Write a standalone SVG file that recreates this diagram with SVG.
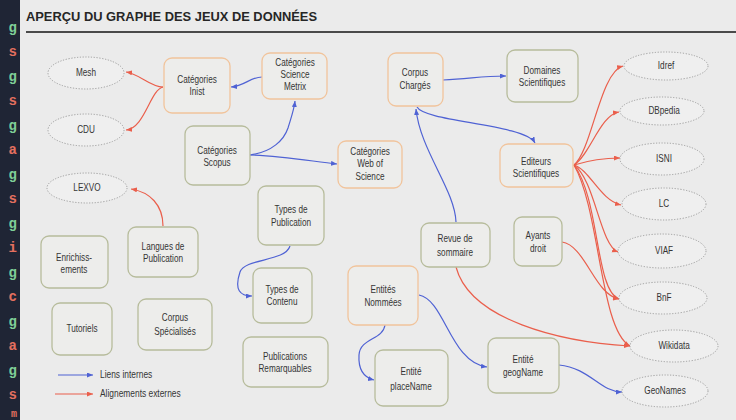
<svg xmlns="http://www.w3.org/2000/svg" width="736" height="420" viewBox="0 0 736 420">
<style>
.bg{fill:#ebebeb}
.strip{fill:#1f2535}
.sl{font-family:"Liberation Mono","DejaVu Sans Mono",monospace;font-size:14px;font-weight:bold;text-anchor:end}
.sg{fill:#7fcf98}
.sr{fill:#e4705f}
.title{font-family:"Liberation Sans",Arial,sans-serif;font-size:12px;font-weight:bold;fill:#262626}
.ng rect{fill:#ededeb;stroke:#b7bc9c;stroke-width:1.3}
.no rect{fill:#ededeb;stroke:#f1c49c;stroke-width:1.3}
.ne ellipse{fill:#efefef;stroke:#9d9d9d;stroke-width:1;stroke-dasharray:1.2 1.6}
text.t{font-family:"Liberation Sans",Arial,sans-serif;font-size:10.5px;fill:#353535;text-anchor:middle;transform-box:fill-box;transform-origin:center;transform:scaleX(0.78)}
.b{fill:none;stroke:#4f62d4;stroke-width:1.2}
.r{fill:none;stroke:#ea5f4c;stroke-width:1.2}
.leg{font-family:"Liberation Sans",Arial,sans-serif;font-size:10.5px;fill:#353535;transform-box:fill-box;transform-origin:left center;transform:scaleX(0.8)}
</style>
<defs>
<marker id="ab" markerUnits="userSpaceOnUse" markerWidth="7" markerHeight="6" refX="6" refY="2.5" orient="auto"><path d="M0,0 L6,2.5 L0,5 z" fill="#4f62d4"/></marker>
<marker id="ar" markerUnits="userSpaceOnUse" markerWidth="7" markerHeight="6" refX="6" refY="2.5" orient="auto"><path d="M0,0 L6,2.5 L0,5 z" fill="#ea5f4c"/></marker>
</defs>
<rect class="strip" x="0" y="0" width="20" height="420"/>
<rect class="bg" x="20" y="0" width="716" height="420"/>
<g id="strip-letters" class="sl">
<text x="17" y="32" class="sg">g</text>
<text x="17" y="56" class="sr">s</text>
<text x="17" y="81" class="sg">g</text>
<text x="17" y="105" class="sr">s</text>
<text x="17" y="130" class="sg">g</text>
<text x="17" y="154" class="sr">a</text>
<text x="17" y="179" class="sg">g</text>
<text x="17" y="203" class="sr">s</text>
<text x="17" y="228" class="sg">g</text>
<text x="17" y="252" class="sr">i</text>
<text x="17" y="277" class="sg">g</text>
<text x="17" y="301" class="sr">c</text>
<text x="17" y="326" class="sg">g</text>
<text x="17" y="350" class="sr">a</text>
<text x="17" y="375" class="sg">g</text>
<text x="17" y="399" class="sr">s</text>
<text x="17" y="417" class="sr" font-size="10">m</text>
</g>
<text class="title" x="26" y="21" textLength="291" lengthAdjust="spacingAndGlyphs">APERÇU DU GRAPHE DES JEUX DE DONNÉES</text>
<line x1="26" y1="32" x2="736" y2="32" stroke="#4a4a4a" stroke-width="2"/>

<g id="connectors">
<path class="b" marker-end="url(#ab)" d="M262,77 C250,77 245,86 231,87"/>
<path class="b" marker-end="url(#ab)" d="M250,155 C272,152 284,140 288,128 C291,118 294,110 295,101"/>
<path class="b" marker-end="url(#ab)" d="M250,155 C282,156 310,161 337,164"/>
<path class="b" marker-end="url(#ab)" d="M443,80 C470,79 480,76 506,76"/>
<path class="b" marker-end="url(#ab)" d="M417,107 C425,122 525,124 535,143"/>
<path class="b" marker-end="url(#ab)" d="M456,222 C455,190 420,150 416,109"/>
<path class="b" marker-end="url(#ab)" d="M290,246 C285,262 245,258 240,272 C234,290 240,296 252,296"/>
<path class="b" marker-end="url(#ab)" d="M385,325 C383,340 360,338 359,355 C358,372 366,378 374,380"/>
<path class="b" marker-end="url(#ab)" d="M419,295 C445,300 450,362 487,367"/>
<path class="b" marker-end="url(#ab)" d="M559,365 C590,368 600,392 622,392"/>
<path class="r" marker-end="url(#ar)" d="M163,87 C150,87 140,74 126,72"/>
<path class="r" marker-end="url(#ar)" d="M163,87 C150,90 145,128 126,130"/>
<path class="r" marker-end="url(#ar)" d="M163,226 C163,205 150,192 131,189"/>
<path class="r" marker-end="url(#ar)" d="M574,165 C592,150 600,72 623,66"/>
<path class="r" marker-end="url(#ar)" d="M574,165 C590,155 600,115 619,112"/>
<path class="r" marker-end="url(#ar)" d="M574,165 C590,160 605,158 620,158"/>
<path class="r" marker-end="url(#ar)" d="M574,165 C590,170 600,200 621,205"/>
<path class="r" marker-end="url(#ar)" d="M574,165 C595,180 600,245 618,252"/>
<path class="r" marker-end="url(#ar)" d="M574,165 C600,200 595,290 619,299"/>
<path class="r" marker-end="url(#ar)" d="M574,165 C600,210 600,330 630,346"/>
<path class="r" marker-end="url(#ar)" d="M562,242 C585,245 595,295 619,299"/>
<path class="r" marker-end="url(#ar)" d="M456,267 C470,320 560,342 630,346"/>
</g>

<g id="mesh" class="ne"><ellipse cx="86" cy="73" rx="38" ry="16"/><text class="t" x="86" y="76.5">Mesh</text></g>
<g id="cdu" class="ne"><ellipse cx="86" cy="130" rx="38" ry="16"/><text class="t" x="86" y="133.5">CDU</text></g>
<g id="lexvo" class="ne"><ellipse cx="87" cy="188" rx="40" ry="15"/><text class="t" x="87" y="191.5">LEXVO</text></g>
<g id="idref" class="ne"><ellipse cx="666" cy="66" rx="42" ry="14"/><text class="t" x="666" y="69.5">Idref</text></g>
<g id="dbpedia" class="ne"><ellipse cx="662" cy="111" rx="42" ry="14"/><text class="t" x="664" y="114.5">DBpedia</text></g>
<g id="isni" class="ne"><ellipse cx="662" cy="159" rx="42" ry="16"/><text class="t" x="664" y="162.5">ISNI</text></g>
<g id="lc" class="ne"><ellipse cx="664" cy="204" rx="42" ry="16"/><text class="t" x="664" y="207.5">LC</text></g>
<g id="viaf" class="ne"><ellipse cx="662" cy="251" rx="44" ry="17"/><text class="t" x="664" y="254.5">VIAF</text></g>
<g id="bnf" class="ne"><ellipse cx="663" cy="298" rx="44" ry="16"/><text class="t" x="664" y="301.5">BnF</text></g>
<g id="wikidata" class="ne"><ellipse cx="674" cy="346" rx="44" ry="16"/><text class="t" x="674" y="349.5">Wikidata</text></g>
<g id="geonames" class="ne"><ellipse cx="665" cy="391" rx="43" ry="16"/><text class="t" x="665" y="394.5">GeoNames</text></g>

<g id="cat-inist" class="no"><rect x="164" y="58" width="66" height="55" rx="8"/><text class="t" x="197" y="83.5">Catégories</text><text class="t" x="197" y="95.5">Inist</text></g>
<g id="cat-metrix" class="no"><rect x="262" y="53" width="65" height="46" rx="8"/><text class="t" x="295" y="66.5">Catégories</text><text class="t" x="295" y="78.5">Science</text><text class="t" x="295" y="90.5">Metrix</text></g>
<g id="cat-scopus" class="ng"><rect x="185" y="126" width="65" height="59" rx="8"/><text class="t" x="217" y="154.5">Catégories</text><text class="t" x="217" y="166.5">Scopus</text></g>
<g id="cat-wos" class="no"><rect x="338" y="141" width="64" height="47" rx="8"/><text class="t" x="370" y="155">Catégories</text><text class="t" x="370" y="167.5">Web of</text><text class="t" x="370" y="180">Science</text></g>
<g id="types-pub" class="ng"><rect x="258" y="186" width="66" height="59" rx="8"/><text class="t" x="291" y="213.5">Types de</text><text class="t" x="291" y="226">Publication</text></g>
<g id="types-contenu" class="ng"><rect x="253" y="268" width="59" height="55" rx="8"/><text class="t" x="282" y="293.5">Types de</text><text class="t" x="282" y="305.5">Contenu</text></g>
<g id="langues" class="ng"><rect x="128" y="227" width="70" height="50" rx="8"/><text class="t" x="163" y="250.5">Langues de</text><text class="t" x="163" y="262">Publication</text></g>
<g id="enrich" class="ng"><rect x="41" y="236" width="67" height="52" rx="8"/><text class="t" x="74" y="261.5">Enrichiss-</text><text class="t" x="74" y="273.5">ements</text></g>
<g id="tutoriels" class="ng"><rect x="52" y="303" width="60" height="52" rx="8"/><text class="t" x="82" y="332.5">Tutoriels</text></g>
<g id="corpus-spec" class="ng"><rect x="138" y="299" width="74" height="51" rx="8"/><text class="t" x="175" y="321.5">Corpus</text><text class="t" x="175" y="335">Spécialisés</text></g>
<g id="pub-rem" class="ng"><rect x="243" y="337" width="85" height="50" rx="8"/><text class="t" x="285" y="360.5">Publications</text><text class="t" x="285" y="372.5">Remarquables</text></g>
<g id="corpus-charges" class="no"><rect x="388" y="53" width="55" height="53" rx="8"/><text class="t" x="415" y="76.5">Corpus</text><text class="t" x="415" y="89.5">Chargés</text></g>
<g id="domaines" class="ng"><rect x="507" y="50" width="71" height="52" rx="8"/><text class="t" x="542" y="74.5">Domaines</text><text class="t" x="542" y="86.5">Scientifiques</text></g>
<g id="editeurs" class="no"><rect x="500" y="144" width="73" height="43" rx="8"/><text class="t" x="536" y="165.5">Editeurs</text><text class="t" x="536" y="177.5">Scientifiques</text></g>
<g id="revue" class="ng"><rect x="421" y="223" width="69" height="44" rx="8"/><text class="t" x="455" y="242.5">Revue de</text><text class="t" x="455" y="256">sommaire</text></g>
<g id="ayants" class="ng"><rect x="514" y="217" width="48" height="49" rx="8"/><text class="t" x="538" y="239.5">Ayants</text><text class="t" x="538" y="252.5">droit</text></g>
<g id="entites" class="no"><rect x="348" y="266" width="70" height="59" rx="8"/><text class="t" x="383" y="293.5">Entités</text><text class="t" x="383" y="306.5">Nommées</text></g>
<g id="placename" class="ng"><rect x="375" y="350" width="73" height="56" rx="8"/><text class="t" x="411" y="375.5">Entité</text><text class="t" x="411" y="390">placeName</text></g>
<g id="geogname" class="ng"><rect x="488" y="338" width="71" height="55" rx="8"/><text class="t" x="523" y="363.5">Entité</text><text class="t" x="523" y="376.5">geogName</text></g>

<g id="legend">
<line class="b" x1="58" y1="375" x2="93" y2="375" marker-end="url(#ab)"/>
<text class="leg" x="100" y="378">Liens internes</text>
<line class="r" x1="55" y1="394" x2="93" y2="394" marker-end="url(#ar)"/>
<text class="leg" x="100" y="397">Alignements externes</text>
</g>
</svg>
